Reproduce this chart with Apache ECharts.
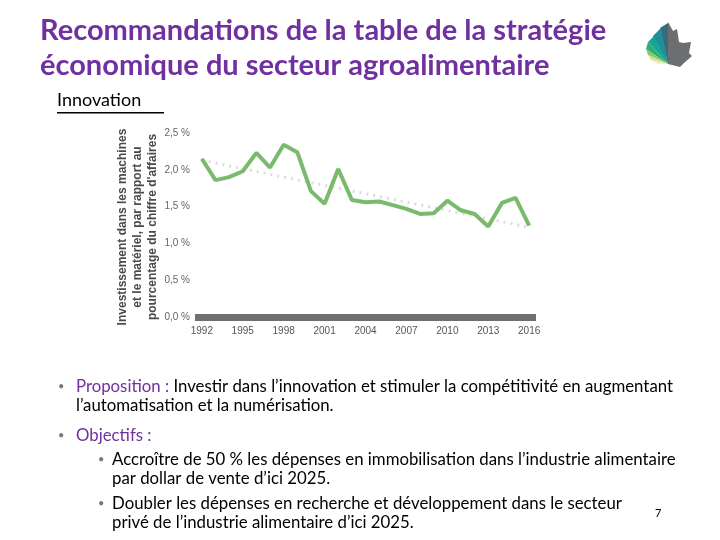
<!DOCTYPE html>
<html>
<head>
<meta charset="utf-8">
<script src="https://cdn.jsdelivr.net/npm/echarts@6/dist/echarts.min.js"></script>
<style>
  html, body { margin: 0; padding: 0; background: #fff; }
  #myChart { width: 720px; height: 540px; }
</style>
</head>
<body>
<div id="myChart"></div>
<script type="text/javascript">
  // données
  const years = ['1992','1993','1994','1995','1996','1997','1998','1999','2000','2001','2002','2003','2004',
                 '2005','2006','2007','2008','2009','2010','2011','2012','2013','2014','2015','2016']
  const investissement = [2.15,1.86,1.90,1.98,2.23,2.03,2.34,2.24,1.71,1.54,2.01,1.59,1.56,
                          1.57,1.52,1.47,1.40,1.41,1.58,1.45,1.40,1.23,1.55,1.62,1.24]
  const tendance = [2.13, 1.22]   // tendance : 1992 -> 2016
  const yTicks = [0, 0.5, 1.0, 1.5, 2.0, 2.5]

  const trendData = years.map(function (y, i) {
    if (i === 0) return tendance[0]
    if (i === years.length - 1) return tendance[1]
    return null
  })

  const textFont = 'Lato, "Open Sans", sans-serif'
  const purple = '#7030a0'
  const bodyFont = '16.8px ' + textFont

  // petite fonction pour une puce grise
  function puce (x, y) {
    return { type: 'text', left: x, top: y + 3, style: { text: '•', font: '11px ' + textFont, fill: '#777' } }
  }

  let myChart = echarts.init(document.getElementById('myChart'))
  myChart.setOption({
    animation: false,
    grid: { left: 195, right: 184, top: 133, bottom: 223 },
    xAxis: {
      type: 'category',
      data: years,
      boundaryGap: true,
      axisLine: { show: true, lineStyle: { color: '#6e706c', width: 7, cap: 'butt' } },
      axisTick: { show: false },
      axisLabel: { interval: 2, color: '#555', fontSize: 10, fontFamily: 'Arial', margin: 9 }
    },
    yAxis: {
      type: 'value',
      min: yTicks[0], max: yTicks[yTicks.length - 1], interval: 0.5,
      axisLine: { show: false },
      axisTick: { show: false },
      splitLine: { show: false },
      axisLabel: {
        color: '#666', fontSize: 10, fontFamily: 'Arial', margin: 5,
        formatter: function (v) { return v.toFixed(1).replace('.', ',') + ' %' }
      }
    },
    series: [
      {
        name: 'tendance',
        type: 'line',
        data: trendData,
        connectNulls: true,
        symbol: 'none',
        lineStyle: { color: '#dcdcdc', width: 3, type: [2, 5] },
        z: 1
      },
      {
        name: 'investissement',
        type: 'line',
        data: investissement,
        symbol: 'none',
        lineStyle: { color: '#7aba6c', width: 4 },
        z: 2
      }
    ],
    graphic: [
      // titre
      { type: 'text', left: 40, top: 16, style: { text: 'Recommandations de la table de la stratégie', font: 'bold 29px ' + textFont, fill: purple } },
      { type: 'text', left: 40, top: 51, style: { text: 'économique du secteur agroalimentaire', font: 'bold 29px ' + textFont, fill: purple } },
      { type: 'text', left: 57, top: 91, style: { text: 'Innovation', font: '18px ' + textFont, fill: '#000' } },
      { type: 'rect', shape: { x: 57, y: 112, width: 107, height: 1.5 }, style: { fill: '#000' } },
      // titre de l'axe
      {
        type: 'text', x: 138, y: 227, rotation: Math.PI / 2,
        style: {
          text: 'Investissement dans les machines\net le matériel, par rapport au\npourcentage du chiffre d\'affaires',
          font: 'bold 12px Arial', lineHeight: 15, fill: '#4a4a4a', align: 'center', verticalAlign: 'middle'
        }
      },
      // puces
      puce(58, 378),
      {
        type: 'text', left: 76, top: 378,
        style: {
          text: '{p|Proposition :} Investir dans l’innovation et stimuler la compétitivité en augmentant',
          font: bodyFont, fill: '#000',
          rich: { p: { fill: purple, font: bodyFont } }
        }
      },
      { type: 'text', left: 76, top: 397, style: { text: 'l’automatisation et la numérisation.', font: bodyFont, fill: '#000' } },
      puce(58, 427),
      { type: 'text', left: 76, top: 427, style: { text: 'Objectifs :', font: bodyFont, fill: purple } },
      puce(98, 451),
      { type: 'text', left: 112, top: 451, style: { text: 'Accroître de 50 % les dépenses en immobilisation dans l’industrie alimentaire', font: bodyFont, fill: '#000' } },
      { type: 'text', left: 112, top: 470, style: { text: 'par dollar de vente d’ici 2025.', font: bodyFont, fill: '#000' } },
      puce(98, 495),
      { type: 'text', left: 112, top: 495, style: { text: 'Doubler les dépenses en recherche et développement dans le secteur', font: bodyFont, fill: '#000' } },
      { type: 'text', left: 112, top: 514, style: { text: 'privé de l’industrie alimentaire d’ici 2025.', font: bodyFont, fill: '#000' } },
      { type: 'text', left: 655, top: 508, style: { text: '7', font: '11px ' + textFont, fill: '#000' } },
      // logo (feuille d'érable)
      { type: 'polygon', shape: { points: [[668,22],[673,31],[677,29],[679,42],[683,43],[691,42],[689,53],[692,56],[684,63],[680,67],[668,64]] }, style: { fill: '#6d6e70' } },
      { type: 'polygon', shape: { points: [[668,64],[668,23],[660,28]] }, style: { fill: '#3a6b7b' } },
      { type: 'polygon', shape: { points: [[668,64],[661,28],[653,36]] }, style: { fill: '#1f8e96' } },
      { type: 'polygon', shape: { points: [[668,64],[654,36],[648,42]] }, style: { fill: '#18a595' } },
      { type: 'polygon', shape: { points: [[668,64],[648,42],[646,49]] }, style: { fill: '#2eae72' } },
      { type: 'polygon', shape: { points: [[668,64],[646,49],[648,55]] }, style: { fill: '#8cc866' } },
      { type: 'polygon', shape: { points: [[668,64],[648,55],[651,60]] }, style: { fill: '#cfe39a' } },
      { type: 'polygon', shape: { points: [[668,64],[651,60],[658,64]] }, style: { fill: '#f1eec0' } }
    ]
  })
</script>
</body>
</html>
